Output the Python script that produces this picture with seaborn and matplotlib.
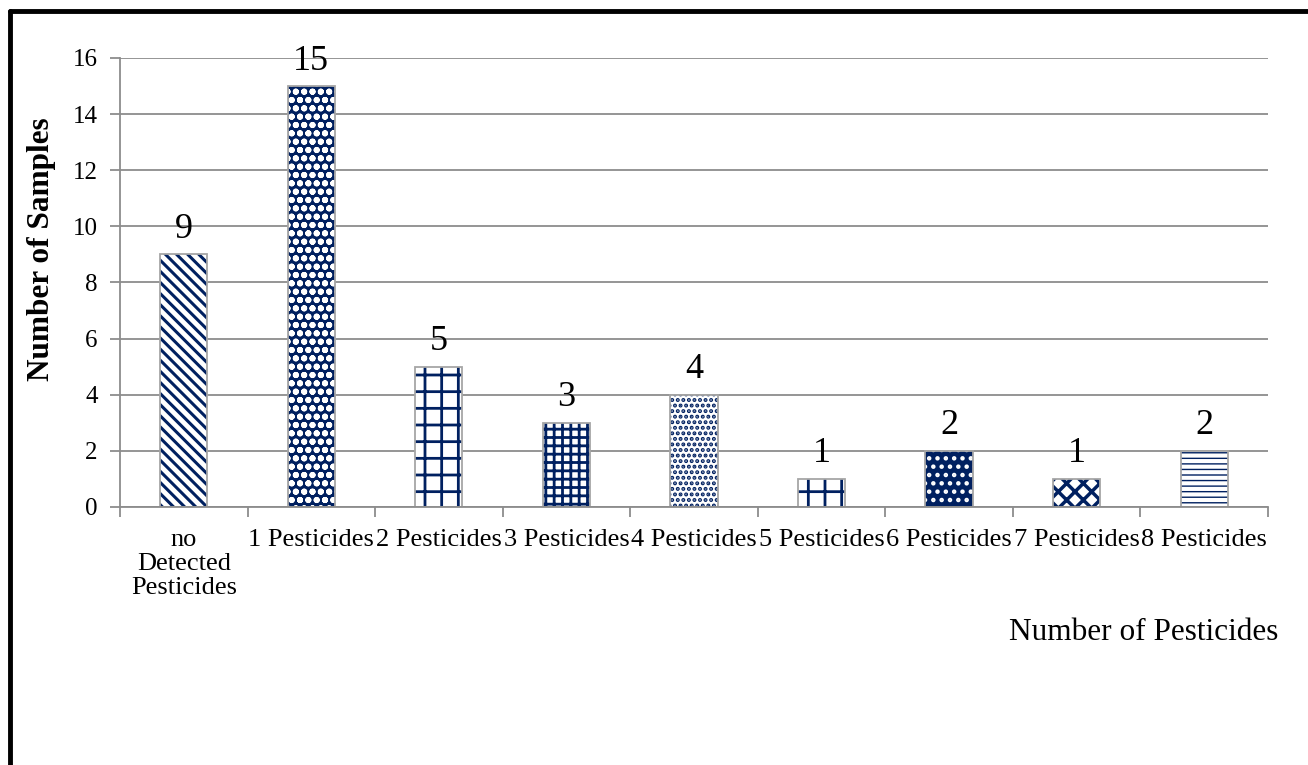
import matplotlib
matplotlib.use("Agg")
import matplotlib.pyplot as plt
import seaborn as sns
import pandas as pd
from matplotlib.lines import Line2D
from matplotlib.patches import Rectangle

categories = ["no\nDetected\nPesticides", "1 Pesticides", "2 Pesticides", "3 Pesticides",
              "4 Pesticides", "5 Pesticides", "6 Pesticides", "7 Pesticides", "8 Pesticides"]
samples = [9, 15, 5, 3, 4, 1, 2, 1, 2]
yticks = [0, 2, 4, 6, 8, 10, 12, 14, 16]

navy = "#002060"
# (face colour, hatch colour, hatch, hatch linewidth) per bar
styles = [
    ("white", navy, "\\\\\\", 2.2),
    (navy, "white", "oo", 2.0),
    ("white", navy, "+", 2.0),
    ("white", navy, "++", 2.0),
    ("white", navy, "...", 2.0),
    ("white", navy, "+", 2.0),
    (navy, "white", "..", 2.0),
    ("white", navy, "xx", 2.5),
    ("white", navy, "---", 1.0),
]

sns.set_theme(style="white")
plt.rcParams["font.family"] = ["Liberation Serif", "DejaVu Serif"]
plt.rcParams["text.color"] = "black"
plt.rcParams["axes.labelcolor"] = "black"
plt.rcParams["xtick.color"] = "black"
plt.rcParams["ytick.color"] = "black"
plt.rcParams["hatch.linewidth"] = 2.0

df = pd.DataFrame({"cat": categories, "val": samples})

fig = plt.figure(figsize=(13.08, 7.65), dpi=100)
ax = fig.add_axes([0.0917, 0.3373, 0.8777, 0.5869])

sns.barplot(data=df, x="cat", y="val", ax=ax, width=0.37, color="white",
            edgecolor=navy, linewidth=0, saturation=1)

for p, (fc, hc, h, hlw) in zip(list(ax.patches), styles):
    p.set_facecolor(fc)
    p.set_edgecolor(hc)
    p.set_hatch(h)
    p.set_linewidth(0)
    if hasattr(p, "set_hatch_linewidth"):
        p.set_hatch_linewidth(hlw)
    else:
        p._hatch_linewidth = hlw
    b = p.get_bbox()
    ax.add_patch(Rectangle((b.x0, b.y0), b.width, b.height, fill=False,
                           edgecolor="#a6a6a6", linewidth=1.3, zorder=p.get_zorder() + 0.1))

ax.set_ylim(0, 16)
ax.set_xlim(-0.5, len(categories) - 0.5)
ax.set_yticks(yticks)
ax.set_yticklabels([str(t) for t in yticks], fontsize=18)
ax.yaxis.grid(True, color="#8c8c8c", linewidth=1.3)
ax.set_axisbelow(True)

for s in ["top", "right"]:
    ax.spines[s].set_visible(False)
for s in ["left", "bottom"]:
    ax.spines[s].set_color("#8c8c8c")
    ax.spines[s].set_linewidth(1.3)

ax.tick_params(axis="y", left=True, length=7, width=1.3, color="#8c8c8c", pad=9,
               labelcolor="black")
ax.set_xticks(range(len(categories)))
ax.set_xticklabels(categories, fontsize=19, linespacing=1.12)
ax.tick_params(axis="x", bottom=False, pad=10, labelcolor="black")
ax.set_xticks([i + 0.5 for i in range(-1, len(categories))], minor=True)
ax.tick_params(axis="x", which="minor", bottom=True, length=7, width=1.3, color="#8c8c8c")

for i, v in enumerate(samples):
    ax.text(i, v + 0.3, str(v), ha="center", va="bottom", fontsize=26)

ax.set_ylabel("Number of Samples", fontsize=22.5, fontweight="bold")
ax.yaxis.set_label_coords(-0.056, 0.575)
ax.set_xlabel("")
fig.text(0.977, 1 - 632 / 765, "Number of Pesticides", ha="right", va="center", fontsize=22.5)

# outer frame (left and top edges)
fig.add_artist(Line2D([0.0080, 0.0080], [0, 0.9855], transform=fig.transFigure,
                      color="black", linewidth=3.5))
fig.add_artist(Line2D([0.0080, 1.0], [0.9855, 0.9855], transform=fig.transFigure,
                      color="black", linewidth=3.5))

fig.savefig("out.png", dpi=100)
